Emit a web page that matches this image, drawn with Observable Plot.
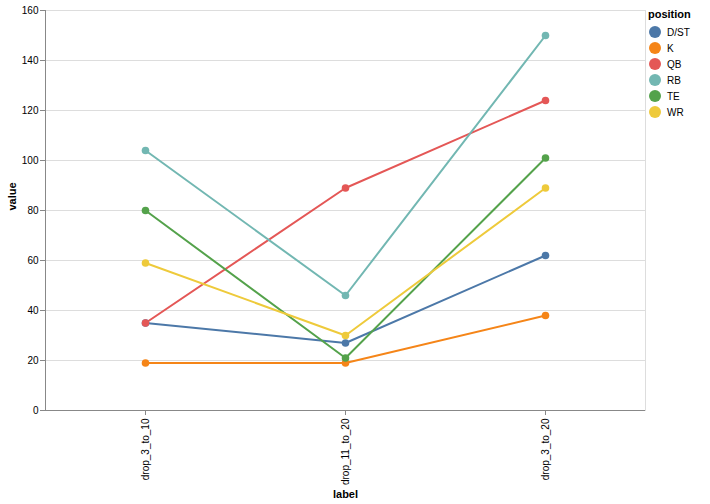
<!DOCTYPE html>
<html>
<head>
<meta charset="utf-8">
<script src="https://cdn.jsdelivr.net/npm/d3@7"></script>
<script src="https://cdn.jsdelivr.net/npm/@observablehq/plot@0.6"></script>
<style>
  body { margin: 0; background: #fff; font-family: "Liberation Sans", Arial, sans-serif; }
  #wrap { position: relative; width: 710px; height: 504px; }
  #legend { position: absolute; left: 648px; top: 8px; font-size: 10px; color: #000; }
  #legend .title { font-weight: bold; font-size: 11px; margin-bottom: 4px; }
  #legend .item { display: flex; align-items: center; height: 16px; }
  #legend .sw { width: 12px; height: 12px; border-radius: 50%; margin-right: 6px; margin-left: 1px; }
</style>
</head>
<body>
<div id="wrap"><div id="legend"></div></div>
<script>
const labels = ["drop_3_to_10", "drop_11_to_20", "drop_3_to_20"];
const positions = ["D/ST", "K", "QB", "RB", "TE", "WR"];
const colors = ["#4c78a8", "#f58518", "#e45756", "#72b7b2", "#54a24b", "#eeca3b"];
const valuesDST = [35, 27, 62];
const valuesK = [19, 19, 38];
const valuesQB = [35, 89, 124];
const valuesRB = [104, 46, 150];
const valuesTE = [80, 21, 101];
const valuesWR = [59, 30, 89];
const yTicks = [0, 20, 40, 60, 80, 100, 120, 140, 160];

const series = {"D/ST": valuesDST, "K": valuesK, "QB": valuesQB, "RB": valuesRB, "TE": valuesTE, "WR": valuesWR};
const data = positions.flatMap(p => labels.map((l, i) => ({position: p, label: l, value: series[p][i]})));

const chart = Plot.plot({
  width: 710,
  height: 504,
  marginLeft: 45,
  marginRight: 65,
  marginTop: 10,
  marginBottom: 94,
  style: {fontFamily: '"Liberation Sans", Arial, sans-serif', fontSize: "10px", background: "#fff", color: "#000"},
  x: {type: "point", domain: labels, padding: 0.5, label: null},
  y: {domain: [0, 160], label: null},
  color: {domain: positions, range: colors},
  marks: [
    Plot.gridY(yTicks, {stroke: "#ddd", strokeOpacity: 1}),
    Plot.frame({stroke: "#ddd"}),
    Plot.ruleY([0], {stroke: "#888"}),
    Plot.axisY({ticks: yTicks, tickSize: 5, tickPadding: 2, stroke: "#888", label: null}),
    Plot.axisX({tickSize: 5, tickRotate: -90, tickPadding: 3, stroke: "#888", label: null}),
    Plot.line(data, {x: "label", y: "value", z: "position", stroke: "position", strokeWidth: 2}),
    Plot.dot(data, {x: "label", y: "value", fill: "position", r: 3.8}),
    Plot.text(["label"], {frameAnchor: "bottom", dy: 87, fontWeight: "bold", fontSize: 11}),
    Plot.text(["value"], {frameAnchor: "left", dx: -33, rotate: -90, fontWeight: "bold", fontSize: 11})
  ]
});
// left domain line drawn as axis decoration
const wrap = document.getElementById("wrap");
wrap.appendChild(chart);
const svg = d3.select(chart);
svg.append("line").attr("x1", 45.5).attr("x2", 45.5).attr("y1", 10).attr("y2", 410).attr("stroke", "#888");

const legend = document.getElementById("legend");
const t = document.createElement("div"); t.className = "title"; t.textContent = "position"; legend.appendChild(t);
positions.forEach((p, i) => {
  const it = document.createElement("div"); it.className = "item";
  const sw = document.createElement("span"); sw.className = "sw"; sw.style.background = colors[i];
  const tx = document.createElement("span"); tx.textContent = p;
  it.appendChild(sw); it.appendChild(tx); legend.appendChild(it);
});
</script>
</body>
</html>
